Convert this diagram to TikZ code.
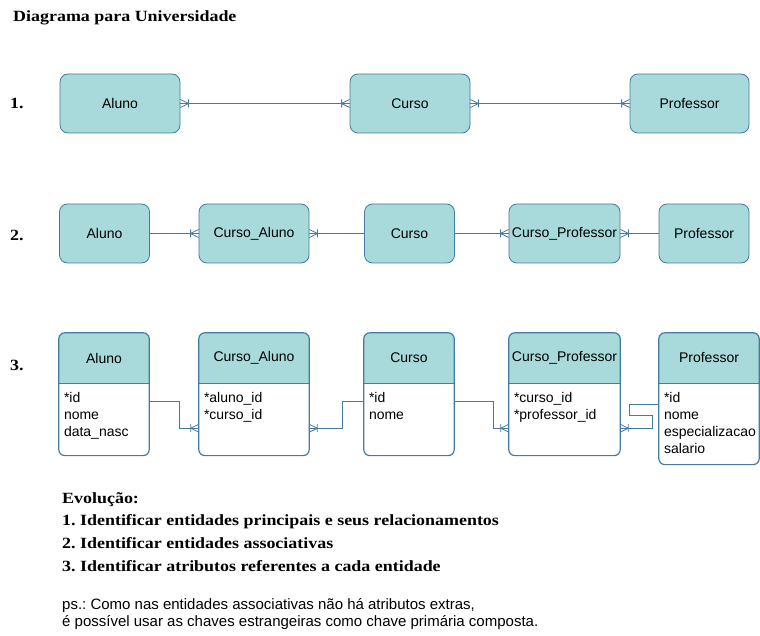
\documentclass[tikz,border=0pt]{standalone}
\usepackage{fontspec}
\setmainfont{Liberation Serif}
\setsansfont{Liberation Sans}
\newfontfamily\wideserif[FakeStretch=1.15]{Liberation Serif}
\usepackage{tikz}
\usetikzlibrary{arrows.meta,positioning,backgrounds}
\definecolor{tealfill}{HTML}{A8DADC}
\definecolor{tealline}{HTML}{457B9D}
\frenchspacing

% crow's foot with bar (one or many)
\pgfdeclarearrow{
  name=Crow,
  defaults={length=8pt, width=8pt},
  setup code={
    \pgfarrowssettipend{0pt}
    \pgfarrowssetlineend{0pt}
    \pgfarrowssetbackend{-\pgfarrowlength}
    \pgfarrowssavethe\pgfarrowlength
    \pgfarrowssavethe\pgfarrowwidth
  },
  drawing code={
    \pgfpathmoveto{\pgfqpoint{-\pgfarrowlength}{0pt}}
    \pgfpathlineto{\pgfqpoint{0pt}{.5\pgfarrowwidth}}
    \pgfpathmoveto{\pgfqpoint{-\pgfarrowlength}{0pt}}
    \pgfpathlineto{\pgfqpoint{0pt}{-.5\pgfarrowwidth}}
    \pgfpathmoveto{\pgfqpoint{-\pgfarrowlength}{.5\pgfarrowwidth}}
    \pgfpathlineto{\pgfqpoint{-\pgfarrowlength}{-.5\pgfarrowwidth}}
    \pgfusepathqstroke
  },
  parameters={\the\pgfarrowlength,\the\pgfarrowwidth},
}

\begin{document}
\begin{tikzpicture}[x=1pt, y=-1pt,
  ent/.style={draw=tealline, fill=tealfill, line width=.8pt, rounded corners=8pt,
    minimum height=59pt, inner sep=0pt, font=\sffamily\fontsize{14}{17}\selectfont},
  thead/.style={minimum height=50pt, inner sep=0pt,
    font=\sffamily\fontsize{14}{17}\selectfont},
  tbody/.style={align=left, inner xsep=5pt, inner ysep=5pt,
    text height=14pt, text depth=48pt, font=\sffamily\fontsize{14}{17}\selectfont},
  tab/.style={draw=tealline, line width=1.2pt},
  rel/.style={draw=tealline, line width=.8pt},
  heading/.style={inner sep=0pt, align=left,
    font=\wideserif\bfseries\fontsize{15.6}{22.7}\selectfont},
  note/.style={inner sep=0pt, align=left, font=\sffamily\fontsize{15}{17.3}\selectfont}
]
\useasboundingbox (0,0) rectangle (760,636);

\node[heading, anchor=west] (title) at (13,18) {Diagrama para Universidade};
\node[heading, anchor=west] (step1) at (10,103) {1.};
\node[heading, anchor=west] (step2) at (10,235) {2.};
\node[heading, anchor=west] (step3) at (10,365) {3.};

% 1. entidades principais
\node[ent, minimum width=120pt] (aluno1) at (120,103.5) {Aluno};
\node[ent, minimum width=120pt] (curso1) at (410,103.5) {Curso};
\node[ent, minimum width=119pt] (prof1) at (689.5,103.5) {Professor};
\draw[rel, {Crow}-{Crow}] (aluno1.east) -- (curso1.west);
\draw[rel, {Crow}-{Crow}] (curso1.east) -- (prof1.west);

% 2. entidades associativas
\node[ent, minimum width=90pt] (aluno2) at (104.5,233.5) {Aluno};
\node[ent, minimum width=110pt] (cursoaluno2) at (254,233.5) {Curso\_Aluno};
\node[ent, minimum width=90pt] (curso2) at (409.5,233.5) {Curso};
\node[ent, minimum width=111pt] (cursoprof2) at (564.5,233.5) {Curso\_Professor};
\node[ent, minimum width=90pt] (prof2) at (704,233.5) {Professor};
\draw[rel, -{Crow}] (aluno2.east) -- (cursoaluno2.west);
\draw[rel, {Crow}-] (cursoaluno2.east) -- (curso2.west);
\draw[rel, -{Crow}] (curso2.east) -- (cursoprof2.west);
\draw[rel, {Crow}-] (cursoprof2.east) -- (prof2.west);

% 3. atributos
\node[thead, minimum width=90pt] (aluno-h) at (104,358) {Aluno};
\node[tbody, text width=80pt, below=0pt of aluno-h] (aluno-b) {*id\\nome\\data\_nasc};
\node[thead, minimum width=110pt] (cursoaluno-h) at (254,358) {Curso\_Aluno};
\node[tbody, text width=100pt, below=0pt of cursoaluno-h] (cursoaluno-b) {*aluno\_id\\{*}curso\_id};
\node[thead, minimum width=90pt] (curso-h) at (409,358) {Curso};
\node[tbody, text width=80pt, below=0pt of curso-h] (curso-b) {*id\\nome};
\node[thead, minimum width=111pt] (cursoprof-h) at (564.5,358) {Curso\_Professor};
\node[tbody, text width=101pt, below=0pt of cursoprof-h] (cursoprof-b) {*curso\_id\\{*}professor\_id};
\node[thead, minimum width=100pt] (prof-h) at (709,358) {Professor};
\node[tbody, text width=90pt, text depth=57pt, below=0pt of prof-h] (prof-b)
  {*id\\nome\\especializacao\\salario};

\begin{scope}[on background layer]
  \foreach \tname in {aluno,cursoaluno,curso,cursoprof,prof} {
    \fill[tealfill, rounded corners=6pt] (\tname-h.north west) rectangle ([yshift=-10pt]\tname-h.south east);
    \fill[white] (\tname-b.north west) rectangle ([yshift=-12pt]\tname-b.north east);
    \draw[tab, rounded corners=6pt] (\tname-h.north west) rectangle (\tname-b.south east);
    \draw[tab] (\tname-h.south west) -- (\tname-h.south east);
  }
\end{scope}

\draw[rel, -{Crow}] ([yshift=-18pt]aluno-b.north east) -- ++(30,0)
  |- ([yshift=-45pt]cursoaluno-b.north west);
\draw[rel, {Crow}-] ([yshift=-45pt]cursoaluno-b.north east) -- ++(33,0)
  |- ([yshift=-18pt]curso-b.north west);
\draw[rel, -{Crow}] ([yshift=-18pt]curso-b.north east) -- ++(39,0)
  |- ([yshift=-45pt]cursoprof-b.north west);
\draw[rel, {Crow}-] ([yshift=-45pt]cursoprof-b.north east) -- ++(32,0) -- ++(0,-13)
  -- ++(-23,0) |- ([yshift=-21pt]prof-b.north west);

\node[heading, anchor=north west] (evolucao) at (62,492)
  {Evolução:\\1. Identificar entidades principais e seus relacionamentos\\
   2. Identificar entidades associativas\\3. Identificar atributos referentes a cada entidade};
\node[note, anchor=north west] (ps) at (62,598)
  {ps.: Como nas entidades associativas não há atributos extras,\\
   é possível usar as chaves estrangeiras como chave primária composta.};
\end{tikzpicture}
\end{document}
